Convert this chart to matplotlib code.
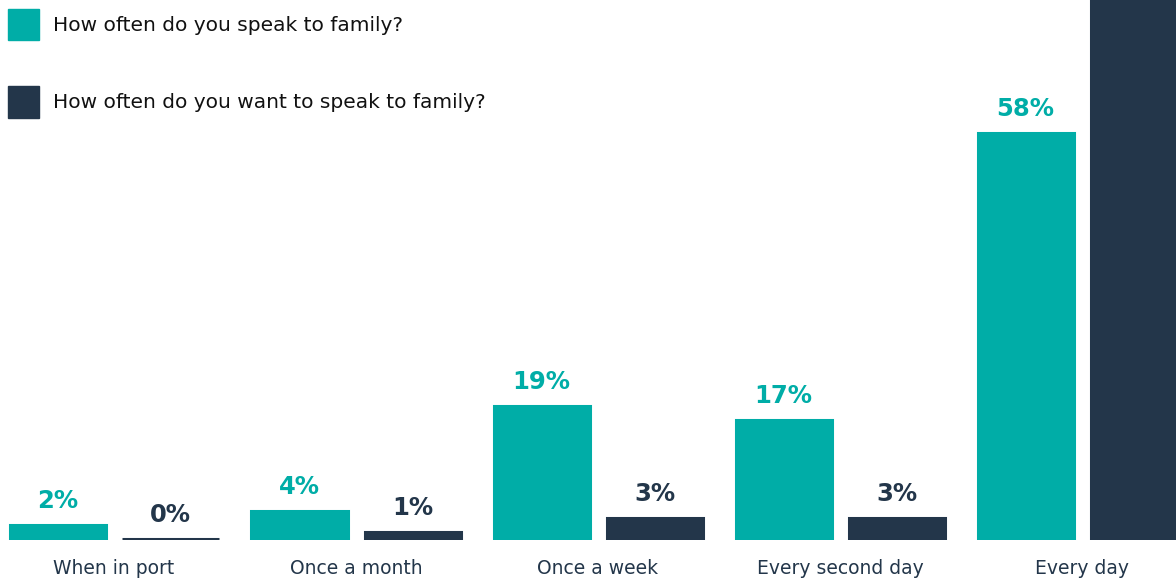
import matplotlib.pyplot as plt
import numpy as np
from matplotlib.patches import Patch

categories = ["When in port", "Once a month", "Once a week", "Every second day", "Every day"]
speak_now = [2, 4, 19, 17, 58]
speak_want = [0, 1, 3, 3, 93]
series_names = ["How often do you speak to family?", "How often do you want to speak to family?"]

TEAL = "#00ada7"
NAVY = "#23364a"


def draw_chart(output_path: str = "out.png") -> None:
    fig = plt.figure(figsize=(11.76, 5.79), dpi=100)
    ax = fig.add_axes([0, 39 / 579, 1, 540 / 579])

    x = np.arange(len(categories))
    width = 96 / 242
    offset = 113 / 242 / 2

    for values, color, shift in [(speak_now, TEAL, -offset), (speak_want, NAVY, offset)]:
        bars = ax.bar(x + shift, values, width, color=color, edgecolor=color, linewidth=2.2)
        for bar, v in zip(bars, values):
            ax.annotate(f"{v}%", (bar.get_x() + bar.get_width() / 2, v),
                        xytext=(0, 17), textcoords="offset points",
                        ha="center", va="center", fontsize=17.5, fontweight="bold",
                        color=color)

    ax.set_xlim(-114 / 242, (1176 - 114) / 242)
    ax.set_ylim(-0.21, 77.0)
    ax.set_xticks(x)
    ax.set_xticklabels(categories, fontsize=13.5, color=NAVY)
    ax.tick_params(axis="x", length=0, pad=14)
    ax.set_yticks([])
    for spine in ax.spines.values():
        spine.set_visible(False)

    handles = [Patch(color=TEAL), Patch(color=NAVY)]
    ax.legend(handles, series_names, loc="upper left", bbox_to_anchor=(8 / 1176, 1 - 9 / 579),
              bbox_transform=fig.transFigure, frameon=False, fontsize=14.5,
              handlelength=1.55, handleheight=2.0, handletextpad=0.7,
              labelspacing=2.3, borderaxespad=0, borderpad=0, labelcolor="#111111")

    fig.savefig(output_path, dpi=100)


if __name__ == "__main__":
    draw_chart()
